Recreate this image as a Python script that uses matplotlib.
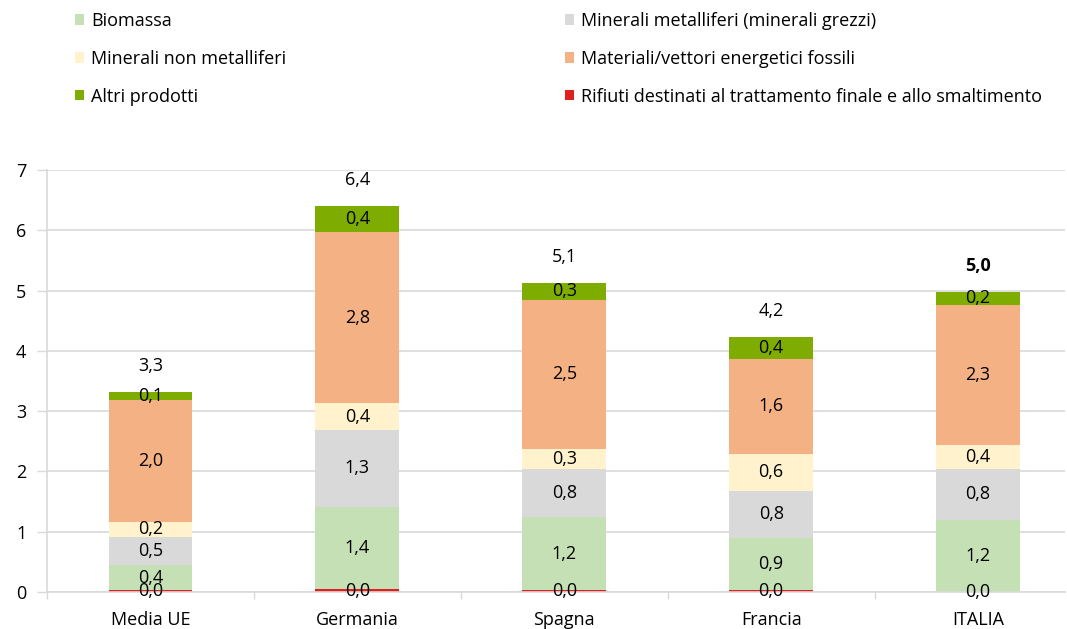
import matplotlib
matplotlib.use("Agg")
import matplotlib.pyplot as plt
from matplotlib.patches import Patch
import numpy as np

plt.rcParams['font.family'] = ['Open Sans', 'DejaVu Sans']

categories = ["Media UE", "Germania", "Spagna", "Francia", "ITALIA"]
series_names = [
    "Rifiuti destinati al trattamento finale e allo smaltimento",
    "Biomassa",
    "Minerali metalliferi (minerali grezzi)",
    "Minerali non metalliferi",
    "Materiali/vettori energetici fossili",
    "Altri prodotti",
]
rifiuti = [0.03, 0.045, 0.03, 0.03, 0.0]
biomassa = [0.41, 1.365, 1.21, 0.87, 1.20]
metalliferi = [0.48, 1.28, 0.80, 0.78, 0.84]
non_metalliferi = [0.24, 0.44, 0.34, 0.61, 0.40]
fossili = [2.03, 2.84, 2.46, 1.58, 2.32]
altri = [0.13, 0.435, 0.29, 0.36, 0.22]
series_values = [rifiuti, biomassa, metalliferi, non_metalliferi, fossili, altri]
colors = ["#E0201E", "#C5E0B4", "#D9D9D9", "#FFF2CC", "#F4B183", "#7FAC00"]
y_ticks = [0, 1, 2, 3, 4, 5, 6, 7]

W, H = 1067, 629
fig = plt.figure(figsize=(W / 100, H / 100), dpi=100)
ax = fig.add_axes([47 / W, 1 - 592 / H, (1065 - 47) / W, (592 - 170) / H])

x = np.arange(len(categories))
bottom = np.zeros(len(categories))
fs = 13
for name, vals, col in zip(series_names, series_values, colors):
    vals = np.array(vals)
    ax.bar(x, vals, width=0.405, bottom=bottom, color=col, linewidth=0, zorder=2)
    for xi, b, v in zip(x, bottom, vals):
        ax.text(xi, b + v / 2, f"{v:.1f}".replace(".", ","), ha="center",
                va="center", fontsize=fs, color="black", zorder=3)
    bottom = bottom + vals

totals = bottom
for i, (xi, t) in enumerate(zip(x, totals)):
    ax.annotate(f"{t:.1f}".replace(".", ","), (xi, t), xytext=(0, 18.5),
                textcoords="offset points", ha="center", va="center",
                fontsize=fs, color="black",
                fontweight="bold" if categories[i] == "ITALIA" else "normal")

ax.set_xlim(-0.5, -0.5 + (1065 - 47) / 206.9)
ax.set_ylim(0, 7)
ax.set_yticks(y_ticks)
ax.set_yticklabels([str(v) for v in y_ticks], fontsize=fs)
ax.set_xticks(x)
ax.set_xticklabels(categories, fontsize=fs)
ax.set_xticks(np.arange(-0.5, len(categories) - 0.5, 1.0), minor=True)
ax.tick_params(axis="x", which="major", length=0, pad=14)
ax.tick_params(axis="x", which="minor", length=5, color="#D9D9D9", width=1)
ax.tick_params(axis="y", length=7, color="#D9D9D9", width=1, pad=8)
ax.grid(axis="y", color="#D9D9D9", linewidth=1.2, zorder=0)
ax.set_axisbelow(True)
for s in ["top", "right"]:
    ax.spines[s].set_visible(False)
for s in ["left", "bottom"]:
    ax.spines[s].set_color("#D9D9D9")
    ax.spines[s].set_linewidth(1.2)

handles = {n: Patch(facecolor=c, edgecolor="none") for n, c in zip(series_names, colors)}
col1 = ["Biomassa", "Minerali non metalliferi", "Altri prodotti"]
col2 = ["Minerali metalliferi (minerali grezzi)", "Materiali/vettori energetici fossili",
        series_names[0]]
for names, x0 in [(col1, 75 / W), (col2, 565 / W)]:
    leg = fig.legend([handles[n] for n in names], names, loc="upper left",
                     bbox_to_anchor=(x0, 1 - 12 / H), frameon=False, fontsize=fs,
                     handlelength=0.5, handleheight=0.5, handletextpad=0.4,
                     labelspacing=1.1, borderpad=0, borderaxespad=0)

fig.savefig("out.png", dpi=100)
